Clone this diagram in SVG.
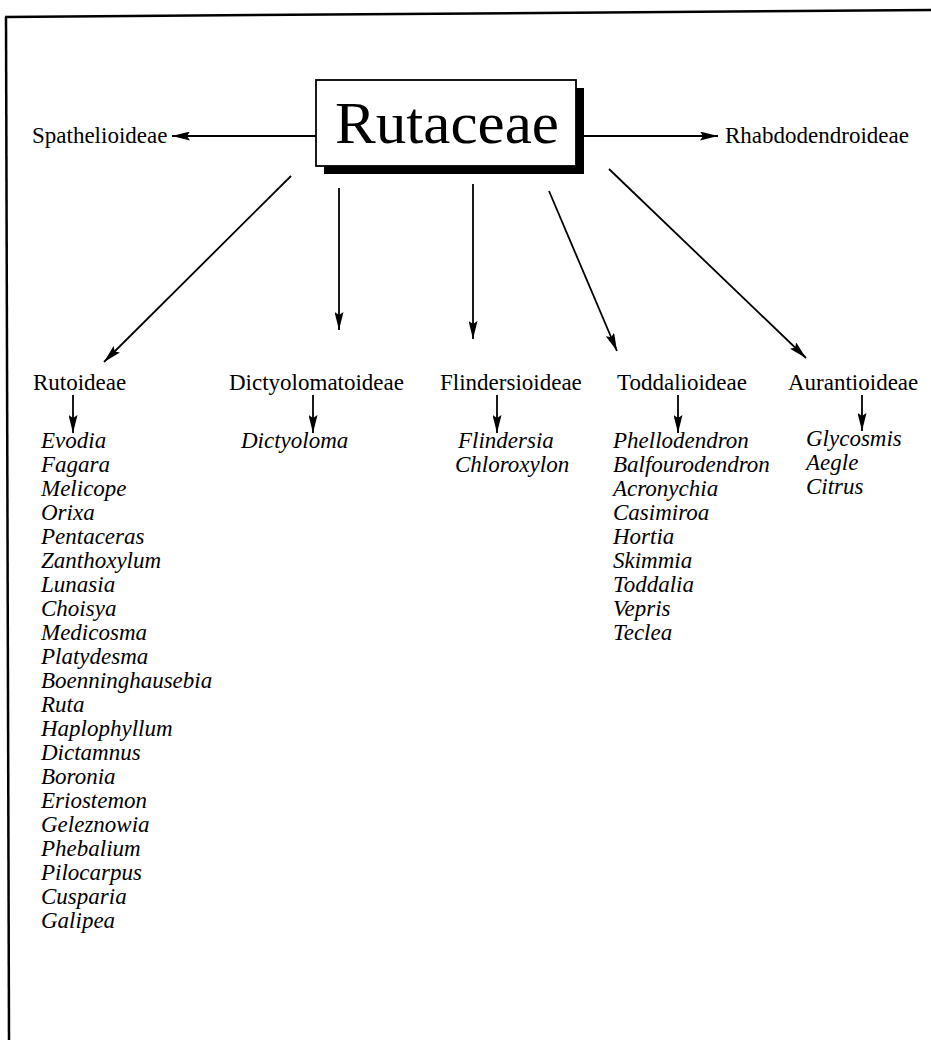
<svg xmlns="http://www.w3.org/2000/svg" width="931" height="1040" viewBox="0 0 931 1040">
<style>
.lbl{font-family:"Liberation Serif","Times New Roman",serif;font-size:23px;fill:#000}
.gen{font-family:"Liberation Serif","Times New Roman",serif;font-size:23px;font-style:italic;fill:#000}
.title{font-family:"Liberation Serif","Times New Roman",serif;font-size:60px;fill:#000}
.ln{stroke:#000;stroke-width:1.8;fill:none}
</style>
<defs>
<marker id="ah" viewBox="0 0 18 9" refX="18" refY="4.5" markerWidth="18" markerHeight="9" markerUnits="userSpaceOnUse" orient="auto">
<path d="M0,0 L18,4.5 L0,9 L3,4.5 z" fill="#000"/>
</marker>
</defs>
<rect width="931" height="1040" fill="#fff"/>
<g id="frame">
<path d="M5,17 L931,10" stroke="#000" stroke-width="2.5" fill="none"/>
<path d="M6,17 L9,1040" stroke="#000" stroke-width="2.5" fill="none"/>
</g>
<g id="connectors">
<line class="ln" x1="316" y1="136" x2="172" y2="136" marker-end="url(#ah)"/>
<line class="ln" x1="584" y1="136" x2="718" y2="136" marker-end="url(#ah)"/>
<line class="ln" x1="291" y1="176" x2="104" y2="362" marker-end="url(#ah)"/>
<line class="ln" x1="339" y1="188" x2="339" y2="330" marker-end="url(#ah)"/>
<line class="ln" x1="473" y1="184" x2="473" y2="339" marker-end="url(#ah)"/>
<line class="ln" x1="549" y1="191" x2="617" y2="351" marker-end="url(#ah)"/>
<line class="ln" x1="609" y1="169" x2="806" y2="358" marker-end="url(#ah)"/>
<line class="ln" x1="73" y1="395" x2="73" y2="433" marker-end="url(#ah)"/>
<line class="ln" x1="313" y1="395" x2="313" y2="433" marker-end="url(#ah)"/>
<line class="ln" x1="497" y1="395" x2="497" y2="433" marker-end="url(#ah)"/>
<line class="ln" x1="678" y1="395" x2="678" y2="433" marker-end="url(#ah)"/>
<line class="ln" x1="862" y1="395" x2="862" y2="431" marker-end="url(#ah)"/>
</g>
<g id="rutaceae">
<rect x="324" y="88" width="260" height="86" fill="#000"/>
<rect x="316" y="80" width="260" height="86" fill="#fff" stroke="#000" stroke-width="1.8"/>
<text class="title" x="335" y="143" textLength="224" lengthAdjust="spacingAndGlyphs">Rutaceae</text>
</g>
<g id="spathelioideae"><text class="lbl" x="32" y="143">Spathelioideae</text></g>
<g id="rhabdodendroideae"><text class="lbl" x="725" y="143">Rhabdodendroideae</text></g>
<g id="rutoideae">
<text class="lbl" x="33" y="390">Rutoideae</text>
<text class="gen" x="41" y="448">Evodia</text>
<text class="gen" x="41" y="472">Fagara</text>
<text class="gen" x="41" y="496">Melicope</text>
<text class="gen" x="41" y="520">Orixa</text>
<text class="gen" x="41" y="544">Pentaceras</text>
<text class="gen" x="41" y="568">Zanthoxylum</text>
<text class="gen" x="41" y="592">Lunasia</text>
<text class="gen" x="41" y="616">Choisya</text>
<text class="gen" x="41" y="640">Medicosma</text>
<text class="gen" x="41" y="664">Platydesma</text>
<text class="gen" x="41" y="688">Boenninghausebia</text>
<text class="gen" x="41" y="712">Ruta</text>
<text class="gen" x="41" y="736">Haplophyllum</text>
<text class="gen" x="41" y="760">Dictamnus</text>
<text class="gen" x="41" y="784">Boronia</text>
<text class="gen" x="41" y="808">Eriostemon</text>
<text class="gen" x="41" y="832">Geleznowia</text>
<text class="gen" x="41" y="856">Phebalium</text>
<text class="gen" x="41" y="880">Pilocarpus</text>
<text class="gen" x="41" y="904">Cusparia</text>
<text class="gen" x="41" y="928">Galipea</text>
</g>
<g id="dictyolomatoideae">
<text class="lbl" x="229" y="390">Dictyolomatoideae</text>
<text class="gen" x="241" y="448">Dictyoloma</text>
</g>
<g id="flindersioideae">
<text class="lbl" x="440" y="390">Flindersioideae</text>
<text class="gen" x="458" y="448">Flindersia</text>
<text class="gen" x="455" y="472">Chloroxylon</text>
</g>
<g id="toddalioideae">
<text class="lbl" x="617" y="390">Toddalioideae</text>
<text class="gen" x="613" y="448">Phellodendron</text>
<text class="gen" x="613" y="472">Balfourodendron</text>
<text class="gen" x="613" y="496">Acronychia</text>
<text class="gen" x="613" y="520">Casimiroa</text>
<text class="gen" x="613" y="544">Hortia</text>
<text class="gen" x="613" y="568">Skimmia</text>
<text class="gen" x="613" y="592">Toddalia</text>
<text class="gen" x="613" y="616">Vepris</text>
<text class="gen" x="613" y="640">Teclea</text>
</g>
<g id="aurantioideae">
<text class="lbl" x="788" y="390">Aurantioideae</text>
<text class="gen" x="806" y="446">Glycosmis</text>
<text class="gen" x="806" y="470">Aegle</text>
<text class="gen" x="806" y="494">Citrus</text>
</g>
</svg>
